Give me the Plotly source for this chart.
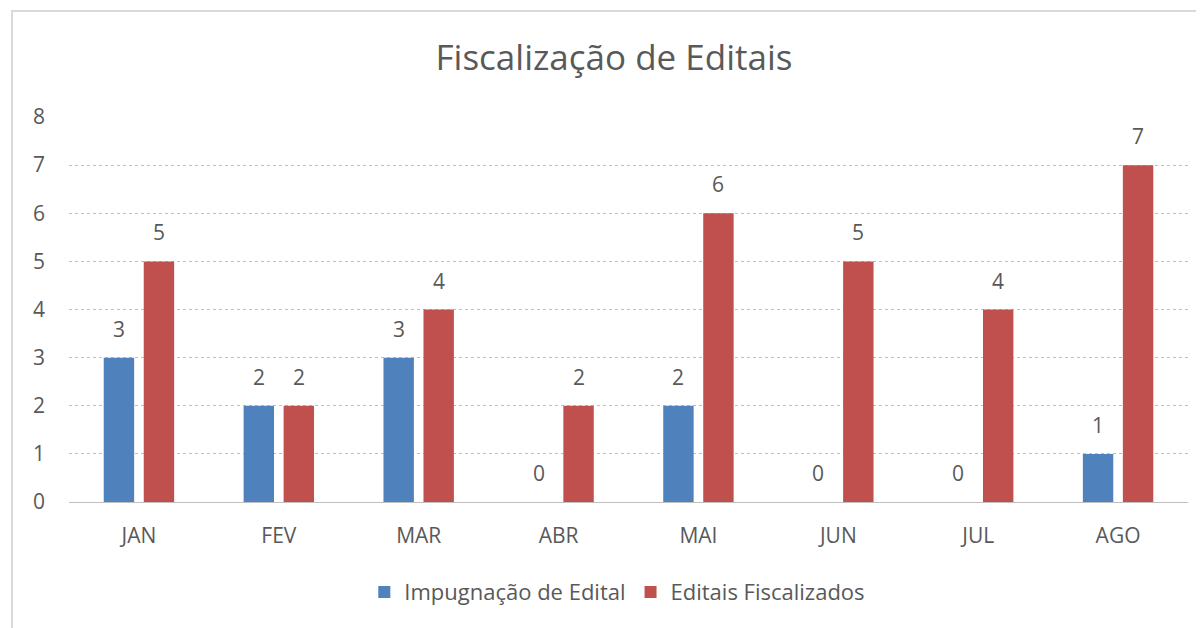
import plotly.graph_objects as go

months = ["JAN", "FEV", "MAR", "ABR", "MAI", "JUN", "JUL", "AGO"]
impugnacao = [3, 2, 3, 0, 2, 0, 0, 1]
fiscalizados = [5, 2, 4, 2, 6, 5, 4, 7]

FONT = "Open Sans"
GRAY = "#595959"
W, H = 1196, 620
L, R, T, B = 61, 16, 109, 126
PW, PH = W - L - R, H - T - B

fig = go.Figure()
fig.add_trace(go.Bar(x=months, y=impugnacao, name="Impugnação de Edital",
                     marker=dict(color="#4F81BD", line=dict(width=0))))
fig.add_trace(go.Bar(x=months, y=fiscalizados, name="Editais Fiscalizados",
                     marker=dict(color="#C0504D", line=dict(width=0))))

annotations = []
for series, shift in ((impugnacao, -20), (fiscalizados, 20)):
    for m, v in zip(months, series):
        annotations.append(dict(x=m, y=v, text=str(v), showarrow=False,
                                xshift=shift, yshift=29, yanchor="middle",
                                font=dict(family=FONT, size=21, color=GRAY)))

fig.update_layout(
    width=W, height=H,
    margin=dict(l=L, r=R, t=T, b=B, pad=0),
    paper_bgcolor="white", plot_bgcolor="white",
    barmode="group", bargap=0.428, bargroupgap=0.24,
    title=dict(text="Fiscalização de Editais", x=606 / W, xanchor="center",
               y=1 - 50 / H, yanchor="middle",
               font=dict(family=FONT, size=35, color=GRAY)),
    font=dict(family=FONT, color=GRAY),
    legend=dict(orientation="h", x=0.49, xanchor="center", y=-0.234, yanchor="middle",
                font=dict(family=FONT, size=22, color=GRAY)),
    annotations=annotations,
    shapes=[dict(type="rect", xref="paper", yref="paper",
                 x0=(4 - L) / PW, x1=1.2, y0=-0.6, y1=(T + PH - 3) / PH,
                 line=dict(color="#D9D9D9", width=2), layer="below")],
)
fig.update_xaxes(showgrid=False, showline=False, ticks="",
                 tickfont=dict(family=FONT, size=21, color=GRAY),
                 ticklabelstandoff=19)
fig.update_yaxes(range=[0, 8], dtick=1, showgrid=True, gridcolor="#BFBFBF",
                 griddash="dot", gridwidth=1, zeroline=True, zerolinecolor="#BFBFBF",
                 zerolinewidth=1, showline=False, ticks="",
                 tickfont=dict(family=FONT, size=21, color=GRAY),
                 ticklabelstandoff=23)

fig.write_html("out.html")
